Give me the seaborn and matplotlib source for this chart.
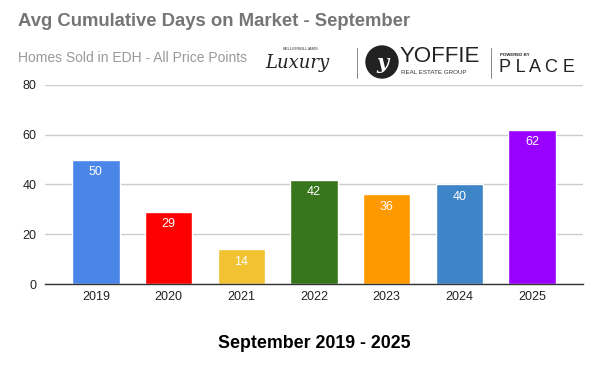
import matplotlib
matplotlib.use("Agg")
import matplotlib.pyplot as plt
import seaborn as sns
import pandas as pd
from matplotlib.patches import Ellipse

years = ["2019", "2020", "2021", "2022", "2023", "2024", "2025"]
days = [50, 29, 14, 42, 36, 40, 62]
colors = ["#4a86e8", "#ff0000", "#f1c232", "#38761d", "#ff9900", "#3d85c6", "#9900ff"]
yticks = [0, 20, 40, 60, 80]

sns.set_theme(style="white")
plt.rcParams['font.family'] = ['Liberation Sans', 'DejaVu Sans']

df = pd.DataFrame({"year": years, "days": days})
fig = plt.figure(figsize=(6, 3.71), dpi=100)
ax = fig.add_axes([0.075, 0.2345, 0.8967, 0.5364])
sns.barplot(data=df, x="year", y="days", hue="year", palette=colors, legend=False,
            width=0.65, saturation=1, ax=ax)
ax.set_xlim(-0.70, 6.70)
ax.set_ylim(0, 80)
ax.set_yticks(yticks)
ax.set_yticklabels([str(t) for t in yticks], fontsize=9, color="#222222")
ax.tick_params(axis="x", labelsize=9, colors="#222222", length=0, pad=5)
ax.tick_params(axis="y", length=0, pad=6)
ax.yaxis.grid(True, color="#cccccc", linewidth=1)
ax.set_axisbelow(True)
for s in ["top", "right", "left"]:
    ax.spines[s].set_visible(False)
ax.spines["bottom"].set_color("#333333")
ax.spines["bottom"].set_linewidth(1)
ax.set_ylabel("")
ax.set_xlabel("September 2019 - 2025", fontsize=12.8, fontweight="bold", color="black", labelpad=23)
for i, v in enumerate(days):
    ax.text(i, v - 2.6, str(v), ha="center", va="top", fontsize=9, color="white")

fig.text(0.03, 1 - 22/371, "Avg Cumulative Days on Market - September", fontsize=13.3,
         fontweight="bold", color="#757575", va="center", ha="left")
fig.text(0.03, 1 - 58/371, "Homes Sold in EDH - All Price Points", fontsize=10,
         color="#999999", va="center", ha="left")

# logo approximations
fig.text(283/600, 1 - 49/371, "KELLERWILLIAMS", fontsize=3, color="#333333", va="center", ha="left")
fig.text(265/600, 1 - 63/371, "Luxury", fontsize=13, color="#222222", va="center", ha="left",
         family=["DejaVu Serif"], style="italic")
fig.add_artist(plt.Line2D([357/600, 357/600], [1 - 78/371, 1 - 48/371], color="#888888", lw=0.7))
fig.add_artist(Ellipse((382/600, 1 - 62/371), 32/600, 32/371, transform=fig.transFigure, color="#222222"))
fig.text(382/600, 1 - 63/371, "y", fontsize=15, color="white", va="center", ha="center",
         family=["DejaVu Serif"], style="italic", fontweight="bold")
fig.text(400/600, 1 - 57/371, "YOFFIE", fontsize=16, color="#222222", va="center", ha="left")
fig.text(401/600, 1 - 73/371, "REAL ESTATE GROUP", fontsize=4.5, color="#333333", va="center", ha="left")
fig.add_artist(plt.Line2D([491/600, 491/600], [1 - 78/371, 1 - 48/371], color="#888888", lw=0.7))
fig.text(500/600, 1 - 55/371, "POWERED BY", fontsize=3.2, color="#222222", va="center", ha="left",
         fontweight="bold")
fig.text(499/600, 1 - 68/371, "P L A C E", fontsize=13, color="#222222", va="center", ha="left")

fig.savefig("out.png", dpi=100)
